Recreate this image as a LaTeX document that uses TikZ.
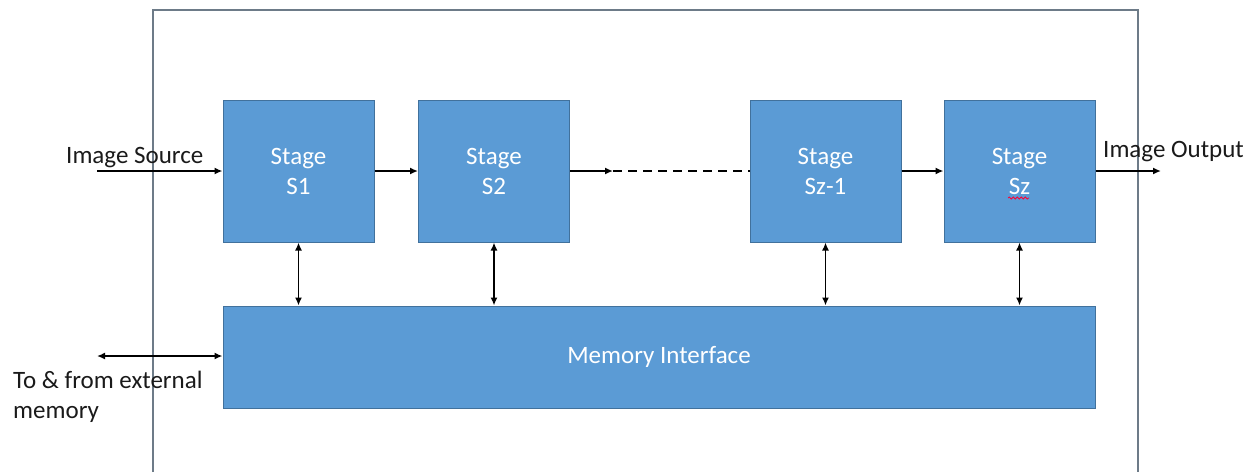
\documentclass[tikz,border=0pt]{standalone}
\usepackage{fontspec}
\setmainfont{Carlito}
\usetikzlibrary{arrows.meta,decorations.pathmorphing}
\definecolor{boxfill}{HTML}{5B9BD5}
\definecolor{boxedge}{HTML}{41719C}
\definecolor{frameline}{HTML}{6D7B88}
\definecolor{labeltext}{HTML}{1A1A1A}
\begin{document}
\begin{tikzpicture}[x=1pt,y=-1pt,
  stagebox/.style={rectangle,draw=boxedge,line width=1pt,fill=boxfill,
    minimum width=151pt,minimum height=142pt,inner sep=0pt,
    text=white,align=center,font=\fontsize{25}{30}\selectfont},
  membox/.style={rectangle,draw=boxedge,line width=1pt,fill=boxfill,
    minimum width=872pt,minimum height=102pt,inner sep=0pt,
    text=white,font=\fontsize{25}{30}\selectfont},
  lbl/.style={inner sep=0pt,anchor=base west,text=labeltext,
    font=\fontsize{25}{30}\selectfont},
  flow/.style={line width=1.8pt,-{Latex[length=8pt,width=7pt]}},
  twoway/.style={line width=1.8pt,{Latex[length=8pt,width=7pt]}-{Latex[length=8pt,width=7pt]}},
  gap/.style={line width=1.8pt,dash pattern=on 9pt off 6pt}]
\useasboundingbox (0,0) rectangle (1260,472);

% enclosing frame (open at the bottom)
\draw[frameline,line width=1.5pt] (153,472) -- (153,10) -- (1138,10) -- (1138,472);

% pipeline stages
\node[stagebox] (s1)  at (298.5,171) {Stage\\S1};
\node[stagebox] (s2)  at (494,171)   {Stage\\S2};
\node[stagebox] (sz1) at (825.5,171) {Stage\\Sz-1};
\node[stagebox] (sz)  at (1019.5,171) {Stage\\Sz};
\draw[red!80!magenta,line width=0.8pt,decorate,
  decoration={snake,amplitude=1pt,segment length=4pt}] (1008,198) -- (1029,198);

% shared memory interface
\node[membox] (mem) at (659,357) {Memory Interface};

% labels outside the frame
\node[lbl] (srclbl) at (66,163) {Image Source};
\node[lbl] (outlbl) at (1103,157) {Image Output};
\node[lbl] (extlbl) at (13,388) {To \& from external};
\node[lbl] (extlbl2) at (13,418) {memory};

% free ends of the external connectors
\coordinate (src) at (97,171);
\coordinate (out) at (1161,171);
\coordinate (ext) at (97,356);
\coordinate (gapstart) at (613,171);

% data flow through the stages
\draw[flow] (src) -- (s1.west);
\draw[flow] (s1.east) -- (s2.west);
\draw[flow] (s2.east) -- (gapstart);
\draw[gap] (gapstart) -- (sz1.west);
\draw[flow] (sz1.east) -- (sz.west);
\draw[flow] (sz.east) -- (out);

% memory traffic
\draw[twoway] (s1.south) -- (s1.south |- mem.north);
\draw[twoway] (s2.south) -- (s2.south |- mem.north);
\draw[twoway] (sz1.south) -- (sz1.south |- mem.north);
\draw[twoway] (sz.south) -- (sz.south |- mem.north);
\draw[twoway] (ext) -- (ext -| mem.west);
\end{tikzpicture}
\end{document}
